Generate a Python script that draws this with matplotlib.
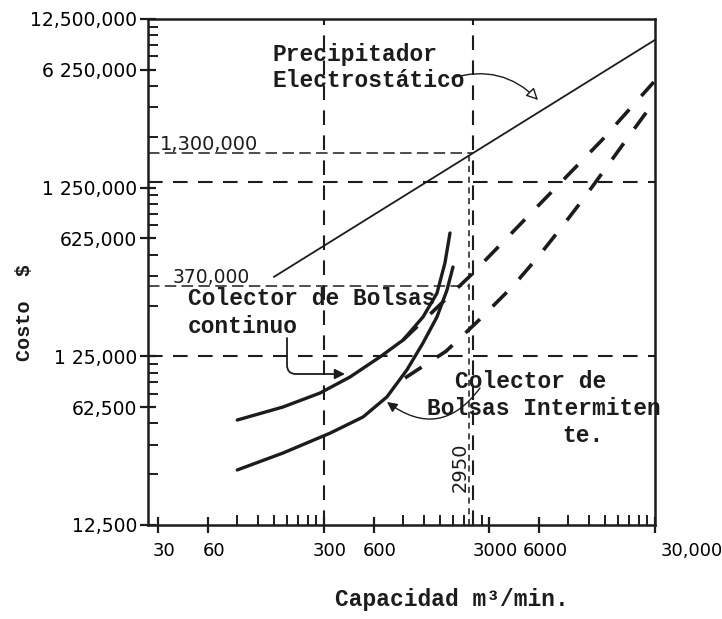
import matplotlib.pyplot as plt
import matplotlib.transforms as mtransforms
from matplotlib.ticker import FixedLocator, NullFormatter

# Capacidad (m3/min) vs costo ($)
prec_x = [150, 30000]
prec_y = [370000, 9400000]

cont_x = [90, 170, 284, 431, 655, 902, 1191, 1446, 1616, 1733]
cont_y = [52400, 62600, 75700, 94200, 124000, 156000, 214000, 296000, 447000, 673000]

inter_x = [90, 170, 327, 517, 721, 953, 1191, 1446, 1663, 1807]
inter_y = [26500, 33400, 43800, 54600, 71800, 104000, 150000, 214000, 309000, 423000]

# extrapolaciones (trazo discontinuo)
cont_ext_x = [902, 2320, 6050, 14350, 29500]
cont_ext_y = [156000, 379000, 1000000, 2394000, 5286000]

inter_ext_x = [927, 1641, 2523, 4160, 5890, 8110, 11170, 15600, 20900, 29500]
inter_ext_y = [93000, 134000, 199600, 326000, 485000, 720000, 1084000, 1700000, 2530000, 4018000]

# lineas de referencia
ref_h_y = [125000, 1350000, 2000000, 325000]
ref_h_xend = [30000, 30000, 2400, 2250]
ref_v_x = [300, 2400, 2250]
ref_v_yend = [12500000, 12500000, 2000000]

x_ticks = [30, 60, 300, 600, 3000, 6000, 30000]
x_labels = ["30", "60", "300", "600", "3000", "6000", "30,000"]
y_ticks = [12500, 62500, 125000, 625000, 1250000, 6250000, 12500000]
y_labels = ["12,500", "62,500", "1 25,000", "625,000", "1 250,000", "6 250,000", "12,500,000"]

X_MIN, X_MAX = 26, 30000
Y_MIN, Y_MAX = 12500, 12500000

W, H = 722, 619
INK = "#1c1c1c"
MONO = "Liberation Mono"
HAND = "DejaVu Sans"


def P(px, py):
    # pixel of the picture -> figure fraction
    return (px / W, 1 - py / H)


fig = plt.figure(figsize=(W / 100, H / 100), dpi=100)
fig.patch.set_facecolor("white")
ax = fig.add_axes([148 / W, 1 - 525 / H, 507 / W, 506 / H])
ax.set_xscale("log")
ax.set_yscale("log")
ax.set_xlim(X_MIN, X_MAX)
ax.set_ylim(Y_MIN, Y_MAX)

# reference lines
for i, (yv, xe) in enumerate(zip(ref_h_y, ref_h_xend)):
    if i < 2:
        ax.plot([X_MIN, xe], [yv, yv], color=INK, lw=1.5, ls=(0, (7, 5)))
    else:
        ax.plot([X_MIN, xe], [yv, yv], color=INK, lw=1.1, ls=(0, (7.5, 3.5)))
for i, (xv, ye) in enumerate(zip(ref_v_x, ref_v_yend)):
    if i < 2:
        ax.plot([xv, xv], [Y_MIN, ye], color=INK, lw=1.5, ls=(0, (7, 5)))
    else:
        ax.plot([xv, xv], [Y_MIN, ye], color=INK, lw=1.1, ls=(0, (4, 3)))

# curves
ax.plot(prec_x, prec_y, color=INK, lw=1.3)
ax.plot(cont_x, cont_y, color=INK, lw=2.4, solid_capstyle="round", solid_joinstyle="round")
ax.plot(inter_x, inter_y, color=INK, lw=2.4, solid_capstyle="round", solid_joinstyle="round")
ax.plot(cont_ext_x, cont_ext_y, color=INK, lw=2.6, ls=(0, (5.5, 5)))
ax.plot(inter_ext_x, inter_ext_y, color=INK, lw=2.6, ls=(0, (5.5, 5)))

# axes and ticks
for s in ax.spines.values():
    s.set_linewidth(1.8)
    s.set_color(INK)

ax.xaxis.set_major_locator(FixedLocator(x_ticks))
ax.set_xticklabels(x_labels)
ax.yaxis.set_major_locator(FixedLocator(y_ticks))
ax.set_yticklabels(y_labels)
x_minor = [30 * k * 10 ** n for n in range(3) for k in range(3, 10)]
y_minor = [12500 * k * 10 ** n for n in range(3) for k in (2, 3, 4, 6, 7, 8, 9)]
ax.xaxis.set_minor_locator(FixedLocator(x_minor))
ax.yaxis.set_minor_locator(FixedLocator(y_minor))
ax.xaxis.set_minor_formatter(NullFormatter())
ax.yaxis.set_minor_formatter(NullFormatter())
ax.tick_params(which="major", direction="inout", length=12, width=1.6, color=INK)
ax.tick_params(which="minor", direction="in", length=7, width=1.4, color=INK)
ax.tick_params(axis="x", which="major", pad=6, labelsize=13)
ax.tick_params(axis="y", which="major", pad=2, labelsize=13.5)

shift = mtransforms.ScaledTranslation(0.06, 0, fig.dpi_scale_trans)
for lab in ax.get_xticklabels():
    lab.set_family(HAND)
    lab.set_transform(lab.get_transform() + shift)
ax.get_xticklabels()[-1].set_horizontalalignment("left")
for lab in ax.get_yticklabels():
    lab.set_family(HAND)

# axis titles
fig.text(*P(25, 312), "Costo  $", rotation=90, ha="center", va="center",
         family=MONO, weight="bold", size=14.5, color=INK)
fig.text(*P(335, 606), "Capacidad m³/min.", ha="left", va="baseline",
         family=MONO, weight="bold", size=16.5, color=INK)

# curve names
txt = dict(family=MONO, weight="bold", size=16.5, color=INK, va="baseline", ha="left")
fig.text(*P(272, 61), "Precipitador", **txt)
fig.text(*P(272, 87), "Electrostático", **txt)
fig.text(*P(188, 305), "Colector de Bolsas", **txt)
fig.text(*P(188, 333), "continuo", **txt)
fig.text(*P(455, 388), "Colector de", **txt)
fig.text(*P(427, 415), "Bolsas Intermiten", **txt)
fig.text(*P(562, 442), "te.", **txt)

# values written on the reference lines
fig.text(*P(160, 150), "1,300,000", family=HAND, size=14, color=INK, va="baseline")
fig.text(*P(173, 283), "370,000", family=HAND, size=13.5, color=INK, va="baseline")
fig.text(*P(460, 467), "2950", family=HAND, size=14, color=INK, rotation=90,
         ha="center", va="center")

# arrows
ax.annotate("", xy=P(538, 100), xytext=P(452, 78),
            xycoords="figure fraction", textcoords="figure fraction",
            arrowprops=dict(arrowstyle="-|>,head_length=0.7,head_width=0.35",
                            connectionstyle="arc3,rad=-0.3", fc="white", ec=INK,
                            lw=1.0, shrinkA=0, shrinkB=0))
ax.annotate("", xy=P(345, 374), xytext=P(287, 338),
            xycoords="figure fraction", textcoords="figure fraction",
            arrowprops=dict(arrowstyle="-|>,head_length=0.6,head_width=0.3",
                            connectionstyle="angle,angleA=90,angleB=0,rad=9",
                            fc=INK, ec=INK, lw=1.3, shrinkA=0, shrinkB=0))
ax.annotate("", xy=P(387, 402), xytext=P(480, 388),
            xycoords="figure fraction", textcoords="figure fraction",
            arrowprops=dict(arrowstyle="-|>,head_length=0.6,head_width=0.3",
                            connectionstyle="arc3,rad=-0.5", fc=INK, ec=INK,
                            lw=1.0, shrinkA=0, shrinkB=0))

fig.savefig("out.png", dpi=100, facecolor="white")
